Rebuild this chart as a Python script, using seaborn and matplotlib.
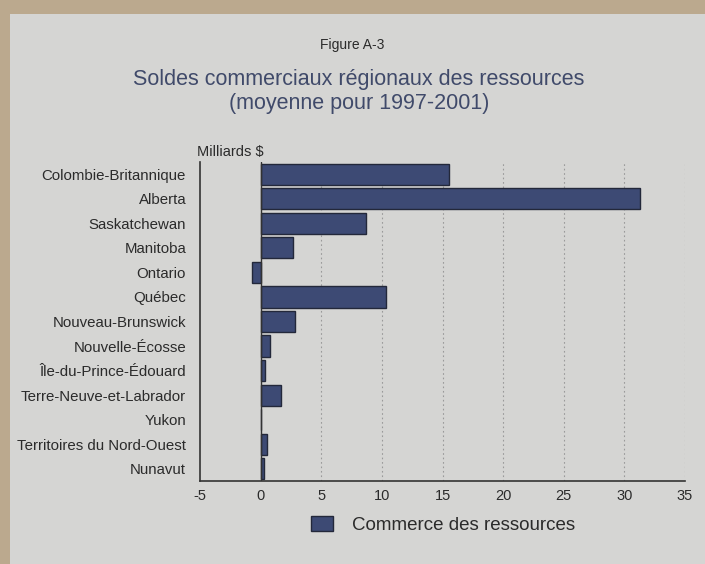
import matplotlib
matplotlib.use("Agg")
import matplotlib.pyplot as plt
import matplotlib.patches as mpatches
import seaborn as sns
import pandas as pd

regions = ["Colombie-Britannique", "Alberta", "Saskatchewan", "Manitoba", "Ontario",
           "Québec", "Nouveau-Brunswick", "Nouvelle-Écosse", "Île-du-Prince-Édouard",
           "Terre-Neuve-et-Labrador", "Yukon", "Territoires du Nord-Ouest", "Nunavut"]
values = [15.5, 31.3, 8.7, 2.7, -0.75, 10.35, 2.85, 0.75, 0.4, 1.7, 0.0, 0.55, 0.3]
xticks = [-5, 0, 5, 10, 15, 20, 25, 30, 35]
series_name = "Commerce des ressources"

df = pd.DataFrame({"region": regions, "valeur": values})

sns.set_theme(style="white")
plt.rcParams["font.family"] = ["Liberation Sans", "DejaVu Sans"]

page = "#d5d5d3"
bar_color = "#3d4a74"
text_color = "#2b2b2b"
title_color = "#404a6a"

fig = plt.figure(figsize=(7.05, 5.64), dpi=100)
fig.patch.set_facecolor("#bba98e")
fig.patches.append(mpatches.Rectangle((10 / 705, 0), 1, 1 - 14 / 564,
                                      transform=fig.transFigure, facecolor=page,
                                      edgecolor="none", zorder=-10))

ax = fig.add_axes([200 / 705, 1 - 481 / 564, 485 / 705, (481 - 162) / 564])
ax.set_facecolor(page)
ax.set_zorder(1)
sns.barplot(data=df, y="region", x="valeur", orient="h", color=bar_color,
            width=0.86, edgecolor="#23283a", linewidth=1.0, ax=ax, saturation=1)

ax.set_xlim(-5, 35)
ax.set_xticks(xticks)
ax.set_xticklabels([str(t) for t in xticks], fontsize=10.5, color=text_color)
ax.tick_params(axis="y", labelsize=10.8, colors=text_color, length=0, pad=10)
ax.tick_params(axis="x", length=0, pad=6)
ax.set_xlabel("")
ax.set_ylabel("")
for x in xticks[2:]:
    ax.axvline(x, color="#9a9a9a", linestyle=(0, (1.5, 2.5)), linewidth=0.8, zorder=0)
ax.axvline(0, color="#333333", linewidth=1.0, zorder=1)
for s in ["top", "right"]:
    ax.spines[s].set_visible(False)
for s in ["left", "bottom"]:
    ax.spines[s].set_color("#333333")
    ax.spines[s].set_linewidth(1.2)

fig.text(352 / 705, 1 - 45 / 564, "Figure A-3", ha="center", va="center",
         fontsize=10, color=text_color)
fig.text(359 / 705, 1 - 80 / 564, "Soldes commerciaux régionaux des ressources",
         ha="center", va="center", fontsize=15.5, color=title_color)
fig.text(359 / 705, 1 - 103 / 564, "(moyenne pour 1997-2001)",
         ha="center", va="center", fontsize=15.5, color=title_color)
fig.text(197 / 705, 1 - 152 / 564, "Milliards $", ha="left", va="center",
         fontsize=10.5, color=text_color)

handle = mpatches.Patch(facecolor=bar_color, edgecolor="#23283a", label=series_name)
fig.legend(handles=[handle], loc="center", bbox_to_anchor=(443 / 705, 1 - 525 / 564),
           frameon=False, fontsize=13.5, handlelength=1.2, handleheight=0.8,
           handletextpad=1.0, labelcolor=text_color)

fig.savefig("out.png", dpi=100, facecolor=fig.get_facecolor())
